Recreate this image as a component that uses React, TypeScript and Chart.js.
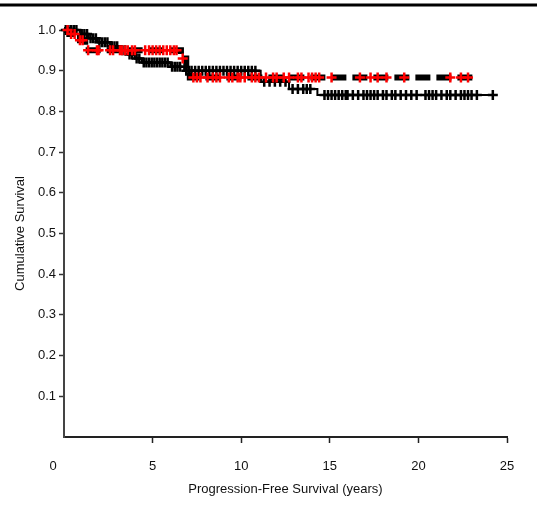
import React, { useEffect, useRef } from "react";
import { Chart, registerables } from "chart.js";

Chart.register(...registerables);

// Axis ticks
const X_TICKS = [0, 5, 10, 15, 20, 25];
const Y_TICKS = [0.1, 0.2, 0.3, 0.4, 0.5, 0.6, 0.7, 0.8, 0.9, 1.0];

const X_TITLE = "Progression-Free Survival (years)";
const Y_TITLE = "Cumulative Survival";

// Group 1 (black solid line, black censor marks): Kaplan-Meier steps
const blackStepTimes = [0, 0.9, 1.4, 1.9, 2.6, 3.2, 3.6, 4.0, 4.4, 6.0, 6.8, 11.1, 12.7, 14.3];
const blackStepSurv = [1.0, 0.99, 0.98, 0.97, 0.96, 0.95, 0.94, 0.93, 0.92, 0.91, 0.9, 0.873, 0.855, 0.84];
const blackEndTime = 24.2;
const blackCensorTimes = [
  0.1, 0.25, 0.4, 0.55, 0.7, 1.0, 1.15, 1.3, 1.5, 1.65, 1.8, 2.0, 2.15, 2.3, 2.45, 2.7, 2.85,
  3.0, 3.3, 3.45, 3.7, 3.85, 4.1, 4.25, 4.5, 4.65, 4.8, 4.95, 5.1, 5.25, 5.4, 5.55, 5.7, 5.85,
  6.1, 6.25, 6.4, 6.55, 6.9, 7.05, 7.2, 7.4, 7.6, 7.8, 8.0, 8.2, 8.4, 8.6, 8.8, 9.0, 9.2, 9.4,
  9.6, 9.8, 10.0, 10.2, 10.4, 10.6, 10.8, 11.3, 11.6, 11.9, 12.2, 12.5, 12.9, 13.2, 13.5, 13.7,
  13.9, 14.7, 14.9, 15.1, 15.3, 15.5, 15.7, 15.9, 16.0, 16.3, 16.6, 16.9, 17.1, 17.3, 17.5,
  17.7, 18.0, 18.2, 18.5, 18.7, 19.0, 19.3, 19.6, 19.9, 20.4, 20.6, 20.8, 21.0, 21.3, 21.6,
  21.8, 22.1, 22.4, 22.6, 22.8, 23.0, 23.3, 24.2,
];

// Group 2 (black dashed line, red censor marks): Kaplan-Meier steps
const redStepTimes = [0, 0.3, 0.9, 1.2, 6.6, 6.9, 7.1];
const redStepSurv = [1.0, 0.99, 0.975, 0.95, 0.93, 0.905, 0.883];
const redEndTime = 23.2;
const redCensorTimes = [
  0.2, 0.4, 0.6, 0.9, 1.05, 1.36, 1.86, 1.95, 2.6, 2.77, 3.16, 3.28, 3.45, 3.6, 3.84, 4.0,
  4.58, 4.8, 5.0, 5.2, 5.4, 5.6, 5.8, 6.0, 6.2, 6.35, 6.7, 7.3, 7.5, 7.7, 8.1, 8.4, 8.6, 8.8,
  9.3, 9.5, 9.8, 9.95, 10.2, 10.6, 10.8, 11.0, 11.4, 11.8, 12.0, 12.4, 12.7, 13.2, 13.4, 13.8,
  14.0, 14.2, 14.4, 15.1, 16.7, 17.3, 17.7, 18.2, 19.2, 21.8, 22.4, 22.8,
];

function survAt(times: number[], surv: number[], t: number): number {
  let v = surv[0];
  for (let i = 0; i < times.length; i++) {
    if (times[i] <= t) v = surv[i];
  }
  return v;
}

function stepPoints(times: number[], surv: number[], end: number) {
  const pts = times.map((t, i) => ({ x: t, y: surv[i] }));
  pts.push({ x: end, y: surv[surv.length - 1] });
  return pts;
}

function censorPoints(times: number[], stepT: number[], stepS: number[]) {
  return times.map((t) => ({ x: t, y: survAt(stepT, stepS, t) }));
}

const FONT_FAMILY = "'Liberation Sans', Arial, Helvetica, sans-serif";
const TEXT_COLOR = "#111";

export default function App() {
  const canvasRef = useRef<HTMLCanvasElement | null>(null);

  useEffect(() => {
    const canvas = canvasRef.current;
    if (!canvas) return;

    const decorPlugin = {
      id: "decor",
      afterDraw(chart: any) {
        const ctx = chart.ctx;
        ctx.save();
        // top heavy rule
        ctx.fillStyle = "#000";
        ctx.fillRect(0, 3.5, chart.width, 3);
        // "0" x label placed left of origin as in the reference
        const xs = chart.scales.x;
        ctx.fillStyle = TEXT_COLOR;
        ctx.font = `13px ${FONT_FAMILY}`;
        ctx.textAlign = "center";
        ctx.textBaseline = "middle";
        ctx.fillText(String(X_TICKS[0]), xs.getPixelForValue(X_TICKS[0]) - 11, xs.top + 29);
        ctx.restore();
      },
    };

    const chart = new Chart(canvas, {
      type: "scatter",
      data: {
        datasets: [
          {
            label: "Group 2 censored",
            data: censorPoints(redCensorTimes, redStepTimes, redStepSurv),
            showLine: false,
            pointStyle: "cross",
            pointRadius: 5,
            pointBorderWidth: 2.5,
            pointBorderColor: "rgb(255,0,0)",
            pointBackgroundColor: "rgb(255,0,0)",
            clip: false,
            order: 0,
          },
          {
            label: "Group 1 censored",
            data: censorPoints(blackCensorTimes, blackStepTimes, blackStepSurv),
            showLine: false,
            pointStyle: "cross",
            pointRadius: 5,
            pointBorderWidth: 2.5,
            pointBorderColor: "#000",
            pointBackgroundColor: "#000",
            clip: false,
            order: 1,
          },
          {
            label: "Group 1",
            data: stepPoints(blackStepTimes, blackStepSurv, blackEndTime),
            showLine: true,
            stepped: "before",
            borderColor: "#000",
            borderWidth: 2,
            pointRadius: 0,
            clip: false,
            order: 2,
          },
          {
            label: "Group 2",
            data: stepPoints(redStepTimes, redStepSurv, redEndTime),
            showLine: true,
            stepped: "before",
            borderColor: "#000",
            borderWidth: 6,
            borderDash: [15, 6],
            pointRadius: 0,
            clip: false,
            order: 3,
          },
        ] as any,
      },
      options: {
        animation: false,
        responsive: false,
        maintainAspectRatio: false,
        layout: { padding: { top: 30, right: 30, left: 0, bottom: 0 } },
        plugins: {
          legend: { display: false },
          tooltip: { enabled: false },
        },
        scales: {
          x: {
            type: "linear",
            min: 0,
            max: 25,
            afterBuildTicks: (scale: any) => {
              scale.ticks = X_TICKS.map((v) => ({ value: v }));
            },
            afterFit: (scale: any) => {
              scale.height = 75;
            },
            ticks: {
              color: TEXT_COLOR,
              font: { family: FONT_FAMILY, size: 13 },
              padding: 16,
              maxRotation: 0,
              callback: (v: any) => (v === X_TICKS[0] ? "" : String(v)),
            },
            grid: {
              drawOnChartArea: false,
              drawTicks: true,
              tickLength: 6,
              tickWidth: 1.5,
              tickColor: (ctx: any) => (ctx.tick && ctx.tick.value === 0 ? "rgba(0,0,0,0)" : "#222"),
            },
            border: { display: true, color: "#222", width: 2 },
            title: {
              display: true,
              text: X_TITLE,
              color: TEXT_COLOR,
              font: { family: FONT_FAMILY, size: 13 },
              padding: { top: 0, bottom: 15 },
            },
          },
          y: {
            type: "linear",
            min: 0,
            max: 1,
            afterBuildTicks: (scale: any) => {
              scale.ticks = [0, ...Y_TICKS].map((v) => ({ value: v }));
            },
            afterFit: (scale: any) => {
              scale.width = 64;
            },
            ticks: {
              color: TEXT_COLOR,
              font: { family: FONT_FAMILY, size: 13 },
              padding: 3,
              callback: (v: any) => (v === 0 ? "" : Number(v).toFixed(1)),
            },
            grid: {
              drawOnChartArea: false,
              drawTicks: true,
              tickLength: 5,
              tickWidth: 1.5,
              tickColor: (ctx: any) => (ctx.tick && ctx.tick.value === 0 ? "rgba(0,0,0,0)" : "#333"),
            },
            border: { display: true, color: "#444", width: 2 },
            title: {
              display: true,
              text: Y_TITLE,
              color: TEXT_COLOR,
              font: { family: FONT_FAMILY, size: 13 },
              padding: { top: 13, bottom: 0 },
            },
          },
        },
      } as any,
      plugins: [decorPlugin],
    });

    return () => {
      chart.destroy();
    };
  }, []);

  return (
    <div style={{ position: "fixed", left: 0, top: 0, width: 537, height: 512, background: "#fff" }}>
      <canvas ref={canvasRef} width={537} height={512} style={{ width: 537, height: 512, display: "block" }} />
    </div>
  );
}
